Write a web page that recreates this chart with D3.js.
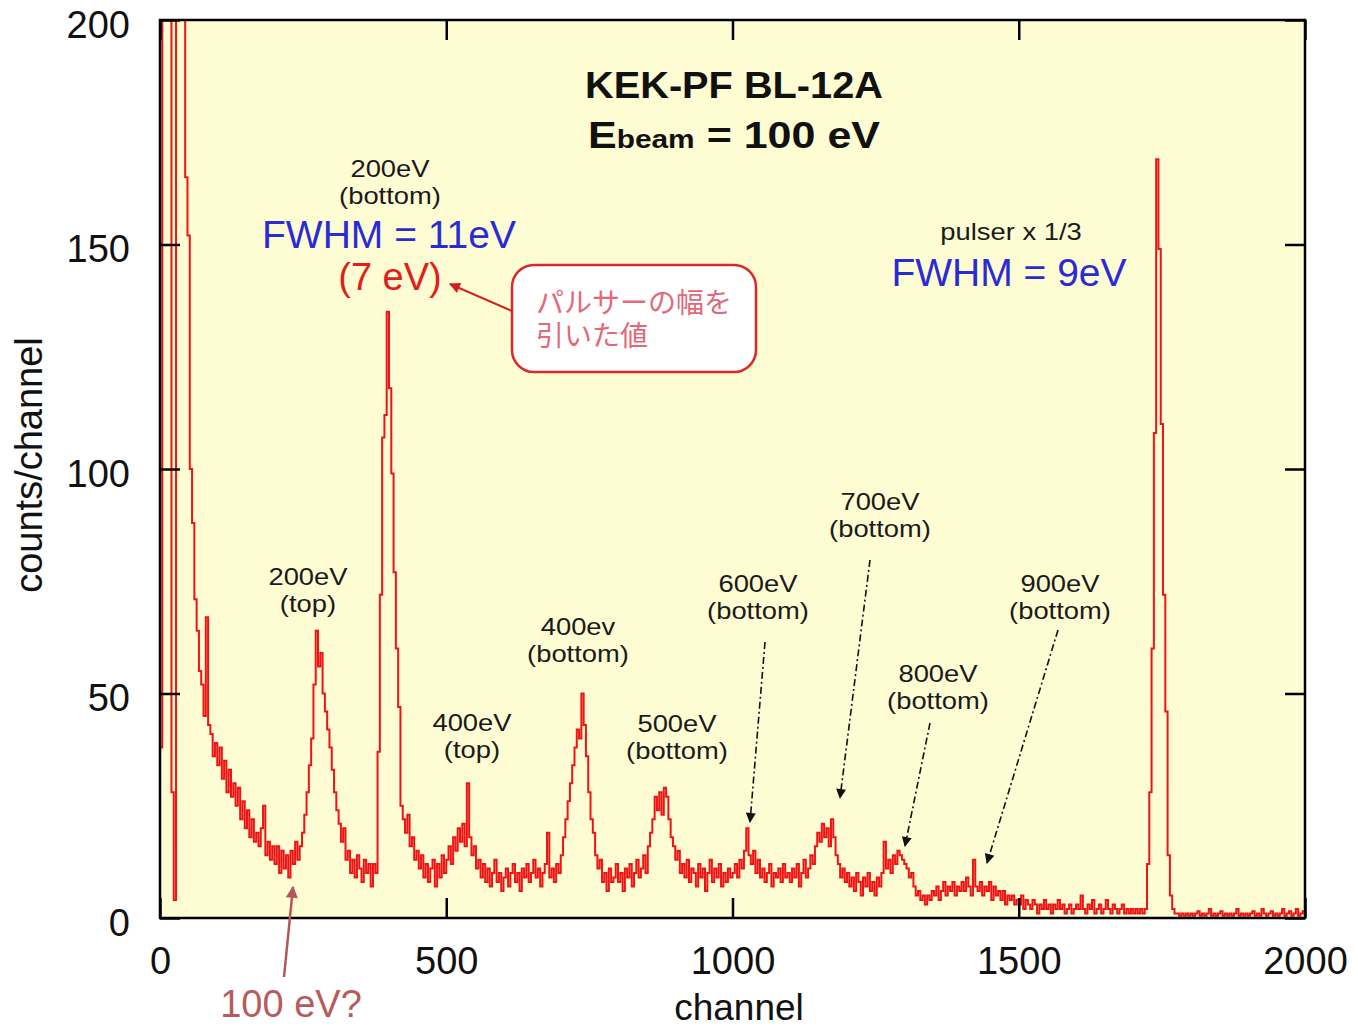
<!DOCTYPE html>
<html>
<head>
<meta charset="utf-8">
<script src="https://cdn.jsdelivr.net/npm/d3@7"></script>
<style>
  html, body { margin: 0; padding: 0; background: #ffffff; }
  svg { display: block; }
  text { font-family: "Liberation Sans", Arial, sans-serif; }
</style>
</head>
<body>
<svg id="chart" width="1358" height="1031"></svg>
<script>
// ---------------- DATA ----------------
// histogram bin width (channels per value)
const binWidth = 4;
// counts per channel, one value per 4-channel bin, channel 0 .. 1996
const counts = [
  // ch 0 - 96
  38, 250, 250, 250, 250, 28, 4, 250, 250, 250, 250, 165, 152, 100, 88, 71, 64, 55, 52, 45, 67, 43, 41, 36, 39,
  // ch 100 - 196
  34, 38, 31, 35, 28, 33, 27, 30, 25, 29, 22, 26, 20, 24, 18, 22, 17, 19, 16, 20, 25, 14, 17, 13, 16,
  // ch 200 - 296
  12, 16, 10, 15, 11, 14, 9, 15, 12, 17, 13, 16, 19, 23, 28, 34, 40, 52, 64, 56, 59, 50, 46, 42, 38,
  // ch 300 - 396
  33, 28, 24, 21, 17, 20, 13, 15, 10, 13, 9, 14, 11, 8, 13, 10, 12, 7, 12, 10, 37, 72, 107, 112, 135,
  // ch 400 - 496
  118, 99, 77, 60, 47, 25, 22, 19, 23, 16, 18, 13, 15, 11, 14, 9, 12, 8, 11, 13, 7, 12, 9, 14, 10,
  // ch 500 - 596
  13, 16, 12, 18, 15, 20, 17, 21, 16, 30, 18, 14, 16, 11, 13, 9, 12, 8, 11, 7, 10, 13, 8, 10, 6,
  // ch 600 - 696
  9, 11, 7, 10, 12, 8, 10, 6, 11, 9, 12, 8, 10, 13, 9, 11, 7, 10, 12, 19, 9, 11, 8, 12, 10,
  // ch 700 - 796
  14, 18, 22, 26, 30, 34, 38, 42, 40, 50, 43, 36, 28, 22, 19, 14, 11, 13, 8, 10, 6, 11, 8, 9, 12,
  // ch 800 - 896
  8, 10, 6, 11, 9, 12, 7, 10, 13, 9, 11, 14, 10, 16, 19, 22, 27, 24, 28, 23, 29, 27, 22, 18, 16,
  // ch 900 - 996
  13, 15, 10, 12, 9, 13, 8, 11, 10, 7, 12, 9, 11, 6, 10, 13, 8, 11, 9, 12, 7, 10, 8, 11, 9,
  // ch 1000 - 1096
  10, 12, 9, 13, 11, 15, 20, 14, 12, 15, 10, 13, 9, 11, 8, 10, 12, 7, 10, 9, 11, 8, 12, 9, 10,
  // ch 1100 - 1196
  8, 11, 9, 12, 7, 10, 13, 9, 11, 14, 12, 16, 19, 17, 21, 18, 20, 16, 22, 18, 14, 12, 9, 11, 8,
  // ch 1200 - 1296
  10, 7, 9, 6, 10, 8, 5, 9, 7, 10, 6, 8, 5, 9, 7, 10, 17, 11, 13, 10, 14, 12, 15, 14, 13,
  // ch 1300 - 1396
  12, 11, 9, 10, 7, 5, 6, 4, 5, 3, 5, 4, 6, 5, 7, 4, 6, 8, 5, 7, 6, 8, 5, 7, 6,
  // ch 1400 - 1496
  8, 6, 9, 7, 5, 13, 7, 6, 8, 5, 7, 6, 8, 4, 7, 5, 6, 4, 6, 3, 5, 4, 5, 3, 4,
  // ch 1500 - 1596
  3, 5, 2, 4, 3, 2, 4, 3, 1, 3, 2, 4, 2, 3, 1, 3, 2, 4, 2, 3, 1, 2, 3, 1, 2,
  // ch 1600 - 1696
  3, 2, 5, 2, 1, 3, 2, 4, 1, 2, 3, 1, 2, 4, 2, 1, 3, 2, 1, 2, 3, 1, 2, 1, 2,
  // ch 1700 - 1796
  1, 2, 1, 2, 1, 2, 12, 28, 60, 108, 169, 149, 110, 72, 46, 14, 5, 2, 1, 1, 0.5, 1, 0.5, 1, 0.5,
  // ch 1800 - 1896
  1, 0.5, 1, 1.5, 0.5, 1, 0.5, 1, 2, 0.5, 1, 0.5, 1, 1.5, 0.5, 1, 0.5, 1, 0.5, 1, 2, 0.5, 1, 0.5, 1,
  // ch 1900 - 1996
  0.5, 1, 1.5, 0.5, 1, 0.5, 2, 1, 0.5, 1, 1.5, 0.5, 1, 0.5, 1, 2, 0.5, 1, 1.5, 0.5, 1, 2, 0.5, 1, 1.5
];
const xTicks = [0, 500, 1000, 1500, 2000];
const yTicks = [0, 50, 100, 150, 200];
const xDomain = [0, 2000];
const yDomain = [0, 200];

const titleLine1 = "KEK-PF BL-12A";
const peakLabels = [
  { l1: "200eV", l2: "(top)" },
  { l1: "400eV", l2: "(top)" },
  { l1: "400ev", l2: "(bottom)" },
  { l1: "500eV", l2: "(bottom)" },
  { l1: "600eV", l2: "(bottom)" },
  { l1: "700eV", l2: "(bottom)" },
  { l1: "800eV", l2: "(bottom)" },
  { l1: "900eV", l2: "(bottom)" }
];
// label anchor positions in pixels (layout, not data)
const peakLabelPos = [[308, 585], [472, 731], [578, 635], [677, 732], [758, 592], [880, 510], [938, 682], [1060, 592]];

// ---------------- LAYOUT ----------------
const svg = d3.select("#chart");
const L = 160, R = 1305, T = 20, B = 918;
const x = d3.scaleLinear().domain(xDomain).range([L, R]);
const y = d3.scaleLinear().domain(yDomain).range([B, T]);

const defs = svg.append("defs");
defs.append("clipPath").attr("id", "plotclip")
  .append("rect").attr("x", L).attr("y", T).attr("width", R - L).attr("height", B - T);

function marker(id, color, w, h) {
  defs.append("marker").attr("id", id)
    .attr("viewBox", "0 0 10 10").attr("refX", 9).attr("refY", 5)
    .attr("markerUnits", "userSpaceOnUse")
    .attr("markerWidth", w).attr("markerHeight", h)
    .attr("orient", "auto")
    .append("path").attr("d", "M0,0 L10,5 L0,10 Z").attr("fill", color);
}
marker("arrBlack", "#111", 12, 10);
marker("arrRed", "#d42020", 14, 11);
marker("arrBrown", "#b05858", 16, 12);

// plot background
svg.append("rect").attr("x", L).attr("y", T).attr("width", R - L).attr("height", B - T)
  .attr("fill", "#fefcd3");

// ---------------- DATA LINE ----------------
const pts = counts.map((c, i) => [i * binWidth, c]);
pts.push([xDomain[1], counts[counts.length - 1]]);
const line = d3.line().x(d => x(d[0])).y(d => y(d[1])).curve(d3.curveStepAfter);
svg.append("path").attr("clip-path", "url(#plotclip)")
  .attr("d", line(pts))
  .attr("fill", "none").attr("stroke", "#ee1414").attr("stroke-width", 2)
  .attr("stroke-linejoin", "miter");

// ---------------- AXES ----------------
const tickLen = 20;
const gx = svg.append("g").attr("transform", `translate(0,${B})`)
  .call(d3.axisBottom(x).tickValues(xTicks).tickSize(-tickLen).tickPadding(29).tickFormat(d3.format("d")));
const gy = svg.append("g").attr("transform", `translate(${L},0)`)
  .call(d3.axisLeft(y).tickValues(yTicks).tickSize(-tickLen).tickPadding(30).tickFormat(d3.format("d")));
const gt = svg.append("g").attr("transform", `translate(0,${T})`)
  .call(d3.axisTop(x).tickValues(xTicks).tickSize(-tickLen).tickFormat(""));
const gr = svg.append("g").attr("transform", `translate(${R},0)`)
  .call(d3.axisRight(y).tickValues(yTicks).tickSize(-tickLen).tickFormat(""));
[gx, gy, gt, gr].forEach(g => {
  g.select(".domain").remove();
  g.selectAll(".tick line").attr("stroke", "#000").attr("stroke-width", 2.5);
  g.selectAll(".tick text").attr("fill", "#111").style("font-size", "38px")
    .style("font-family", "'Liberation Sans', Arial, sans-serif");
});
gy.selectAll(".tick text").attr("dy", "0.45em");
// frame
svg.append("rect").attr("x", L).attr("y", T).attr("width", R - L).attr("height", B - T)
  .attr("fill", "none").attr("stroke", "#000").attr("stroke-width", 2.5);

// axis titles
svg.append("text").attr("x", 739).attr("y", 1020).attr("text-anchor", "middle")
  .style("font-size", "37px").attr("fill", "#111").text("channel");
svg.append("text").attr("transform", "translate(42,465) rotate(-90)").attr("text-anchor", "middle")
  .style("font-size", "38px").attr("fill", "#111").text("counts/channel");

// ---------------- TITLE ----------------
svg.append("text").attr("x", 734).attr("y", 98).attr("text-anchor", "middle")
  .style("font-size", "36px").style("font-weight", "bold").attr("fill", "#111")
  .attr("textLength", 298).attr("lengthAdjust", "spacingAndGlyphs")
  .text(titleLine1);
const t2 = svg.append("text").attr("x", 734).attr("y", 148).attr("text-anchor", "middle")
  .style("font-weight", "bold").attr("fill", "#111")
  .attr("textLength", 292).attr("lengthAdjust", "spacingAndGlyphs");
t2.append("tspan").style("font-size", "36px").text("E");
t2.append("tspan").style("font-size", "25px").text("beam");
t2.append("tspan").style("font-size", "36px").text(" = 100 eV");

// ---------------- ANNOTATIONS ----------------
const annSize = 24, annStretch = 1.14;
function stretchedText(cx, cy, s) {
  const t = svg.append("text").attr("x", cx).attr("y", cy).attr("text-anchor", "middle")
    .style("font-size", annSize + "px").attr("fill", "#1a1a1a").text(s);
  const w = t.node().getComputedTextLength();
  t.attr("textLength", w * annStretch).attr("lengthAdjust", "spacingAndGlyphs");
  return t;
}
function twoLine(cx, cy, a, b, gap) {
  stretchedText(cx, cy, a);
  stretchedText(cx, cy + gap, b);
}
peakLabels.forEach((p, i) => twoLine(peakLabelPos[i][0], peakLabelPos[i][1], p.l1, p.l2, 27));
// 200eV bottom block
twoLine(390, 177, "200eV", "(bottom)", 27);
svg.append("text").attr("x", 389).attr("y", 248).attr("text-anchor", "middle")
  .style("font-size", "39px").attr("fill", "#2b2bd6").text("FWHM = 11eV");
svg.append("text").attr("x", 390).attr("y", 290).attr("text-anchor", "middle")
  .style("font-size", "38px").attr("fill", "#e0201c").text("(7 eV)");
// pulser
stretchedText(1011, 240, "pulser x 1/3");
svg.append("text").attr("x", 1009).attr("y", 286).attr("text-anchor", "middle")
  .style("font-size", "39px").attr("fill", "#2b2bd6").text("FWHM = 9eV");

// callout box
svg.append("rect").attr("x", 512).attr("y", 265).attr("width", 244).attr("height", 107)
  .attr("rx", 22).attr("ry", 22).attr("fill", "#ffffff")
  .attr("stroke", "#dc2828").attr("stroke-width", 2.5);
[["パルサーの幅を", 313], ["引いた値", 346]].forEach(d => {
  svg.append("text").attr("x", 536).attr("y", d[1])
    .style("font-family", "'Liberation Sans', 'Noto Sans CJK JP', sans-serif").style("font-size", "28px")
    .attr("fill", "#e2687a").text(d[0]);
});
svg.append("line").attr("x1", 512).attr("y1", 311).attr("x2", 450).attr("y2", 284)
  .attr("stroke", "#d42020").attr("stroke-width", 2).attr("marker-end", "url(#arrRed)");

// 100 eV? arrow
svg.append("line").attr("x1", 284).attr("y1", 977).attr("x2", 293).attr("y2", 887)
  .attr("stroke", "#b05858").attr("stroke-width", 2.5).attr("marker-end", "url(#arrBrown)");
svg.append("text").attr("x", 291).attr("y", 1017).attr("text-anchor", "middle")
  .style("font-size", "38px").attr("fill", "#b55c5c").text("100 eV?");

// dash-dot arrows
const dashArrows = [
  [765, 642, 750, 822],
  [870, 560, 840, 798],
  [930, 723, 905, 846],
  [1058, 630, 987, 863]
];
dashArrows.forEach(a => {
  svg.append("line").attr("x1", a[0]).attr("y1", a[1]).attr("x2", a[2]).attr("y2", a[3])
    .attr("stroke", "#111").attr("stroke-width", 1.6)
    .attr("stroke-dasharray", "7,3,2,3").attr("marker-end", "url(#arrBlack)");
});
</script>
</body>
</html>
